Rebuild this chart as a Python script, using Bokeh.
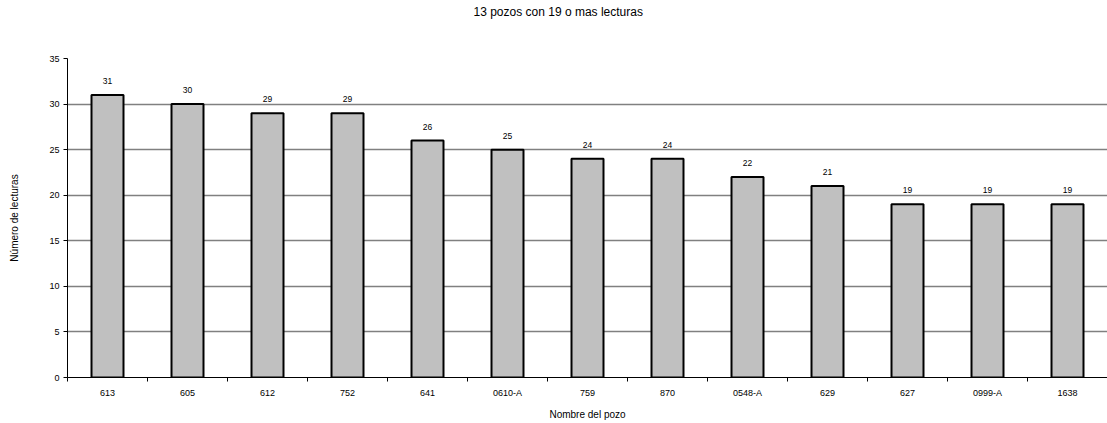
from bokeh.plotting import figure
from bokeh.models import ColumnDataSource, FixedTicker, Range1d, Title, LabelSet
from bokeh.core.properties import value
from bokeh.embed import file_html
from bokeh.resources import INLINE

pozos = ["613", "605", "612", "752", "641", "0610-A", "759", "870", "0548-A", "629", "627", "0999-A", "1638"]
lecturas = [31, 30, 29, 29, 26, 25, 24, 24, 22, 21, 19, 19, 19]
y_ticks = [0, 5, 10, 15, 20, 25, 30, 35]

n = len(pozos)
centers = [i + 0.5 for i in range(n)]
bounds = [float(i) for i in range(n + 1)]

src = ColumnDataSource(dict(x=centers, y=lecturas, lab=[str(v) for v in lecturas]))

FONT = "Liberation Sans"

p = figure(width=1107, height=423, output_backend="svg", toolbar_location=None,
           title_location=None,
           x_range=Range1d(0, n), y_range=Range1d(0, 35),
           min_border_left=67, min_border_right=0, min_border_top=58, min_border_bottom=46)
p.outline_line_color = None
p.background_fill_color = "white"
p.border_fill_color = "white"

# spacer between frame and title
spacer = Title(text=" ", align="center", text_font=FONT, text_font_size="10px", standoff=27)
p.add_layout(spacer, "above")
t = Title(text="13 pozos con 19 o mas lecturas", align="left", offset=406,
          text_font=FONT, text_font_size="12px", text_font_style="normal",
          text_color="black", standoff=0)
p.add_layout(t, "above")

p.vbar(x="x", top="y", width=0.4, source=src, fill_color="#C0C0C0",
       line_color="black", line_width=2)

labels = LabelSet(x="x", y="y", text="lab", source=src, text_align="center",
                  text_baseline="bottom", y_offset=11, text_font=value(FONT),
                  text_font_size=value("8.5px"), text_color=value("black"))
p.add_layout(labels)

# x axis
p.xaxis.ticker = FixedTicker(ticks=centers, minor_ticks=bounds)
p.xaxis.major_label_overrides = {c: name for c, name in zip(centers, pozos)}
p.xaxis.major_tick_out = 0
p.xaxis.major_tick_in = 0
p.xaxis.minor_tick_out = 4
p.xaxis.minor_tick_in = 0
p.xaxis.minor_tick_line_color = "black"
p.xaxis.axis_line_color = "black"
p.xaxis.axis_line_width = 1
p.xaxis.major_label_text_font = FONT
p.xaxis.major_label_text_color = "black"
p.xaxis.major_label_text_font_size = "9px"
p.xaxis.major_label_standoff = 6
p.xaxis.axis_label = "Nombre del pozo"
p.xaxis.axis_label_text_font = FONT
p.xaxis.axis_label_text_color = "black"
p.xaxis.axis_label_text_font_size = "10px"
p.xaxis.axis_label_text_font_style = "normal"
p.xaxis.axis_label_standoff = 8

# y axis
p.yaxis.ticker = FixedTicker(ticks=y_ticks)
p.yaxis.minor_tick_line_color = None
p.yaxis.major_tick_out = 4
p.yaxis.major_tick_in = 0
p.yaxis.axis_line_color = "black"
p.yaxis.major_label_text_font = FONT
p.yaxis.major_label_text_color = "black"
p.yaxis.major_label_text_font_size = "9px"
p.yaxis.major_label_standoff = 4
p.yaxis.axis_label = "Número de lecturas"
p.yaxis.axis_label_text_font = FONT
p.yaxis.axis_label_text_color = "black"
p.yaxis.axis_label_text_font_size = "10px"
p.yaxis.axis_label_text_font_style = "normal"
p.yaxis.axis_label_standoff = 26

p.xgrid.grid_line_color = None
p.ygrid.ticker = FixedTicker(ticks=y_ticks)
p.ygrid.grid_line_color = "#808080"
p.ygrid.grid_line_width = 1.5

open("out.html", "w").write(file_html(p, INLINE))
